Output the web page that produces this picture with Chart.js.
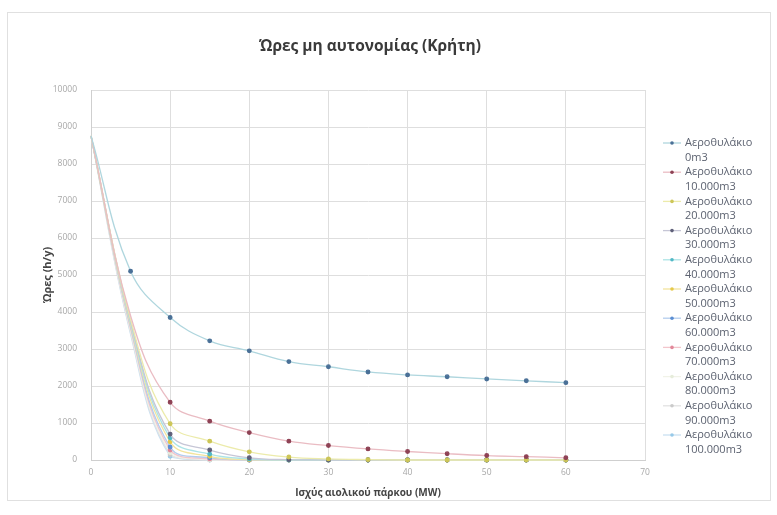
<!DOCTYPE html>
<html>
<head>
<meta charset="utf-8">
<script src="https://cdn.jsdelivr.net/npm/chart.js@4"></script>
<style>
  html, body { margin: 0; padding: 0; background: #ffffff; }
  canvas { display: block; }
</style>
</head>
<body>
<canvas id="chart" width="777" height="515"></canvas>
<script>
// Wind park capacity (MW) on the x axis
const powerMW = [0, 5, 10, 15, 20, 25, 30, 35, 40, 45, 50, 55, 60];

// Hours per year without autonomy, one array per air-vessel volume
const hours0     = [8760, 5100, 3850, 3220, 2950, 2660, 2520, 2380, 2300, 2250, 2190, 2140, 2090];
const hours10k   = [8760, 3900, 1560, 1050, 740, 510, 390, 300, 230, 170, 120, 90, 60];
const hours20k   = [8760, 3800, 980, 510, 220, 80, 30, 10, 0, 0, 0, 0, 0];
const hours30k   = [8760, 3750, 700, 270, 60, 10, 0, 0, 0, 0, 0, 0, 0];
const hours40k   = [8760, 3700, 600, 160, 30, 0, 0, 0, 0, 0, 0, 0, 0];
const hours50k   = [8760, 3650, 490, 100, 10, 0, 0, 0, 0, 0, 0, 0, 0];
const hours60k   = [8760, 3600, 350, 60, 0, 0, 0, 0, 0, 0, 0, 0, 0];
const hours70k   = [8760, 3550, 270, 30, 0, 0, 0, 0, 0, 0, 0, 0, 0];
const hours80k   = [8760, 3500, 200, 10, 0, 0, 0, 0, 0, 0, 0, 0, 0];
const hours90k   = [8760, 3450, 150, 0, 0, 0, 0, 0, 0, 0, 0, 0, 0];
const hours100k  = [8760, 3400, 100, 0, 0, 0, 0, 0, 0, 0, 0, 0, 0];

const seriesNames = [
  "Αεροθυλάκιο 0m3", "Αεροθυλάκιο 10.000m3", "Αεροθυλάκιο 20.000m3",
  "Αεροθυλάκιο 30.000m3", "Αεροθυλάκιο 40.000m3", "Αεροθυλάκιο 50.000m3",
  "Αεροθυλάκιο 60.000m3", "Αεροθυλάκιο 70.000m3", "Αεροθυλάκιο 80.000m3",
  "Αεροθυλάκιο 90.000m3", "Αεροθυλάκιο 100.000m3"
];
const seriesValues = [hours0, hours10k, hours20k, hours30k, hours40k, hours50k,
                      hours60k, hours70k, hours80k, hours90k, hours100k];

const chartTitle = "Ώρες μη αυτονομίας (Κρήτη)";
const xTitle = "Ισχύς αιολικού πάρκου (MW)";
const yTitle = "Ώρες (h/y)";

// Faded line / marker colours for each series
const lineColors = ["#afd6de", "#eabcc3", "#ecebab", "#c6c6d6", "#ace4e6", "#f3e49d",
                    "#b4cdee", "#f3c6cc", "#f1f3e8", "#e2e2e2", "#cae1f2"];
const markColors = ["#4a7097", "#8e4255", "#cdc658", "#5f6079", "#52b8c6", "#e5c94a",
                    "#5b8ed3", "#e2889a", "#e6ecdb", "#cacaca", "#97c9e8"];

const FONT = "'Open Sans', 'Noto Sans', 'DejaVu Sans', sans-serif";

const datasets = seriesNames.map((name, s) => ({
  label: name,
  data: powerMW.map((x, i) => ({ x: x, y: seriesValues[s][i] })),
  borderColor: lineColors[s],
  backgroundColor: markColors[s],
  pointBackgroundColor: markColors[s],
  pointBorderColor: markColors[s],
  borderWidth: 1.3,
  // no marker at the shared starting point; the steep start of the stored
  // series carries no marker either
  pointRadius: (ctx) => (ctx.dataIndex === 0 || (s > 0 && ctx.dataIndex === 1)) ? 0 : 1.8,
  tension: 0.4,
  fill: false,
  clip: 6
}));

// White page, thin frame around the chart object and the centred title
const framePlugin = {
  id: 'frame',
  beforeDraw(chart) {
    const c = chart.ctx;
    c.save();
    c.fillStyle = '#ffffff';
    c.fillRect(0, 0, chart.width, chart.height);
    c.strokeStyle = '#e0e0e0';
    c.lineWidth = 1;
    c.strokeRect(7.5, 12.5, chart.width - 14, chart.height - 27);
    c.fillStyle = '#3a3a3a';
    c.font = "bold 15.5px " + FONT;
    c.textAlign = 'center';
    c.textBaseline = 'middle';
    c.fillText(chartTitle, 370, 47);
    c.restore();
  }
};

// Legend on the right, each name wrapped onto two lines
const sideLegend = {
  id: 'sideLegend',
  afterDraw(chart) {
    const c = chart.ctx;
    const x0 = chart.chartArea.right + 18;
    const top = 143;
    const lineH = 14.6;
    c.save();
    c.font = "11px " + FONT;
    c.textBaseline = 'middle';
    c.textAlign = 'left';
    chart.data.datasets.forEach((ds, i) => {
      const y = top + i * 2 * lineH;
      c.strokeStyle = ds.borderColor;
      c.lineWidth = 1.3;
      c.beginPath();
      c.moveTo(x0, y);
      c.lineTo(x0 + 18, y);
      c.stroke();
      c.fillStyle = ds.pointBackgroundColor;
      c.beginPath();
      c.arc(x0 + 9, y, 1.8, 0, Math.PI * 2);
      c.fill();
      const parts = ds.label.split(' ');
      c.fillStyle = '#5c6270';
      c.fillText(parts[0], x0 + 22, y);
      c.fillText(parts.slice(1).join(' '), x0 + 22, y + lineH);
    });
    c.restore();
  }
};

new Chart(document.getElementById('chart'), {
  type: 'line',
  data: { datasets: datasets },
  plugins: [framePlugin, sideLegend],
  options: {
    responsive: false,
    animation: false,
    events: [],
    layout: { padding: { top: 90, left: 36, right: 132, bottom: 8 } },
    plugins: {
      legend: { display: false },
      tooltip: { enabled: false },
      title: { display: false }
    },
    scales: {
      x: {
        type: 'linear',
        min: 0,
        max: 70,
        ticks: { stepSize: 10, color: '#a8a8a8', font: { family: FONT, size: 8.5 }, padding: 7 },
        grid: { color: '#dedede', drawTicks: false },
        border: { color: '#cfcfcf' },
        title: {
          display: true,
          text: xTitle,
          color: '#444444',
          font: { family: FONT, size: 10, weight: 'bold' },
          padding: { top: 4, bottom: 8 }
        },
        afterFit(scale) { scale.height = 47; }
      },
      y: {
        min: 0,
        max: 10000,
        ticks: {
          stepSize: 1000, color: '#a8a8a8', font: { family: FONT, size: 8.5 }, padding: 14,
          callback: (v) => String(v)
        },
        grid: { color: '#dedede', drawTicks: false },
        border: { color: '#cfcfcf' },
        title: {
          display: true,
          text: yTitle,
          color: '#444444',
          font: { family: FONT, size: 11, weight: 'bold' },
          padding: { top: 5, bottom: 0 }
        },
        afterFit(scale) { scale.width = 55; }
      }
    }
  }
});
</script>
</body>
</html>
